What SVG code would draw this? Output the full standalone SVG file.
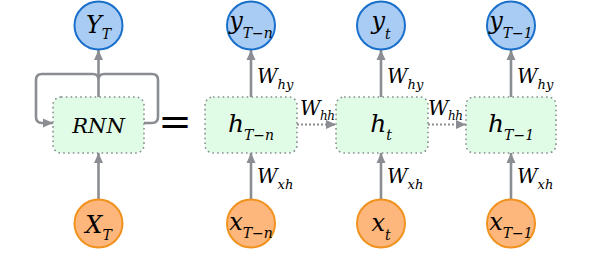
<svg xmlns="http://www.w3.org/2000/svg" width="590" height="259" viewBox="0 0 590 259">
<style>
.box{fill:#e0fbe6;stroke:#8a8d91;stroke-width:1.6;stroke-dasharray:1.6 3.2}
.yc{fill:#a8ccf4;stroke:#1a6fcb;stroke-width:2}
.xc{fill:#fdb67b;stroke:#f0921e;stroke-width:2}
.ar{stroke:#8a8d91;stroke-width:2.6;fill:none}
.dt{stroke:#8a8d91;stroke-width:2.2;fill:none;stroke-dasharray:2 2}
.t{font-family:'DejaVu Serif',serif;font-style:italic;fill:#000}
.big{font-size:24px}
.hb{font-size:25px}
.w{font-size:20px}
.s{font-size:14px}
.ws{font-size:13px}
</style>
<defs>
<marker id="ah" markerUnits="userSpaceOnUse" markerWidth="10" markerHeight="10" viewBox="0 0 10 10" refX="10" refY="5" orient="auto">
<path d="M0,0.5 L10,5 L0,9.5 Z" fill="#8a8d91"/>
</marker>
</defs>
<g id="connectors">
<line class="ar" x1="98.5" y1="199" x2="98.5" y2="153" marker-end="url(#ah)"/>
<line class="ar" x1="98.5" y1="97" x2="98.5" y2="50" marker-end="url(#ah)"/>
<path class="ar" d="M144,123 H152 Q158,123 158,117 V80 Q158,74 152,74 H104 Q99,74 98.5,79 Q98,74 93,74 H42 Q36,74 36,80 V117 Q36,123 42,123 H53" marker-end="url(#ah)"/>
<line class="ar" x1="251" y1="199" x2="251" y2="153" marker-end="url(#ah)"/>
<line class="ar" x1="251" y1="97" x2="251" y2="50" marker-end="url(#ah)"/>
<line class="ar" x1="381" y1="199" x2="381" y2="153" marker-end="url(#ah)"/>
<line class="ar" x1="381" y1="97" x2="381" y2="50" marker-end="url(#ah)"/>
<line class="ar" x1="511" y1="199" x2="511" y2="153" marker-end="url(#ah)"/>
<line class="ar" x1="511" y1="97" x2="511" y2="50" marker-end="url(#ah)"/>
<line class="dt" x1="297" y1="124.5" x2="336" y2="124.5" marker-end="url(#ah)"/>
<line class="dt" x1="428" y1="124.5" x2="466" y2="124.5" marker-end="url(#ah)"/>
</g>
<g id="labels">
<text class="t w" x="257" y="83">W<tspan class="ws" dy="6">hy</tspan></text>
<text class="t w" x="387" y="83">W<tspan class="ws" dy="6">hy</tspan></text>
<text class="t w" x="517" y="83">W<tspan class="ws" dy="6">hy</tspan></text>
<text class="t w" x="257" y="183">W<tspan class="ws" dy="6">xh</tspan></text>
<text class="t w" x="387" y="183">W<tspan class="ws" dy="6">xh</tspan></text>
<text class="t w" x="517" y="183">W<tspan class="ws" dy="6">xh</tspan></text>
<text class="t w" x="300" y="115" letter-spacing="-0.5">W<tspan style="font-size:12px" dy="5">hh</tspan></text>
<text class="t w" x="428" y="115" letter-spacing="-0.5">W<tspan style="font-size:12px" dy="5">hh</tspan></text>
</g>
<text x="175" y="135" text-anchor="middle" font-family="DejaVu Serif" font-size="40">=</text>
<g id="rnn">
<rect class="box" x="53" y="97" width="91" height="56" rx="8"/>
<text class="t" x="98.5" y="133" text-anchor="middle" font-size="21">RNN</text>
</g>
<g id="YT">
<circle class="yc" cx="98.5" cy="25.5" r="24"/>
<text class="t big" x="98.5" y="33" text-anchor="middle">Y<tspan class="s" dy="6">T</tspan></text>
</g>
<g id="XT">
<circle class="xc" cx="98.5" cy="223.5" r="24"/>
<text class="t big" x="98.5" y="233" text-anchor="middle">X<tspan class="s" dy="7">T</tspan></text>
</g>
<g id="h1">
<rect class="box" x="205" y="97" width="92" height="56" rx="8"/>
<text class="t hb" x="251" y="132" text-anchor="middle">h<tspan class="s" dy="8">T−n</tspan></text>
</g>
<g id="h2">
<rect class="box" x="336" y="97" width="92" height="56" rx="8"/>
<text class="t hb" x="381" y="132" text-anchor="middle">h<tspan class="s" dy="8">t</tspan></text>
</g>
<g id="h3">
<rect class="box" x="466" y="97" width="90" height="56" rx="8"/>
<text class="t hb" x="511" y="132" text-anchor="middle">h<tspan class="s" dy="8">T−1</tspan></text>
</g>
<g id="y1">
<circle class="yc" cx="251" cy="25.5" r="24"/>
<text class="t big" x="251" y="29" text-anchor="middle">y<tspan class="s" dy="9">T−n</tspan></text>
</g>
<g id="y2">
<circle class="yc" cx="381" cy="25.5" r="24"/>
<text class="t big" x="381" y="29" text-anchor="middle">y<tspan class="s" dy="10">t</tspan></text>
</g>
<g id="y3">
<circle class="yc" cx="511" cy="25.5" r="24"/>
<text class="t big" x="511" y="29" text-anchor="middle">y<tspan class="s" dy="9">T−1</tspan></text>
</g>
<g id="x1">
<circle class="xc" cx="251" cy="223.5" r="24"/>
<text class="t big" x="251" y="230" text-anchor="middle">x<tspan class="s" dy="8">T−n</tspan></text>
</g>
<g id="x2">
<circle class="xc" cx="381" cy="223.5" r="24"/>
<text class="t big" x="381" y="231" text-anchor="middle">x<tspan class="s" dy="9">t</tspan></text>
</g>
<g id="x3">
<circle class="xc" cx="511" cy="223.5" r="24"/>
<text class="t big" x="511" y="230" text-anchor="middle">x<tspan class="s" dy="8">T−1</tspan></text>
</g>
</svg>
